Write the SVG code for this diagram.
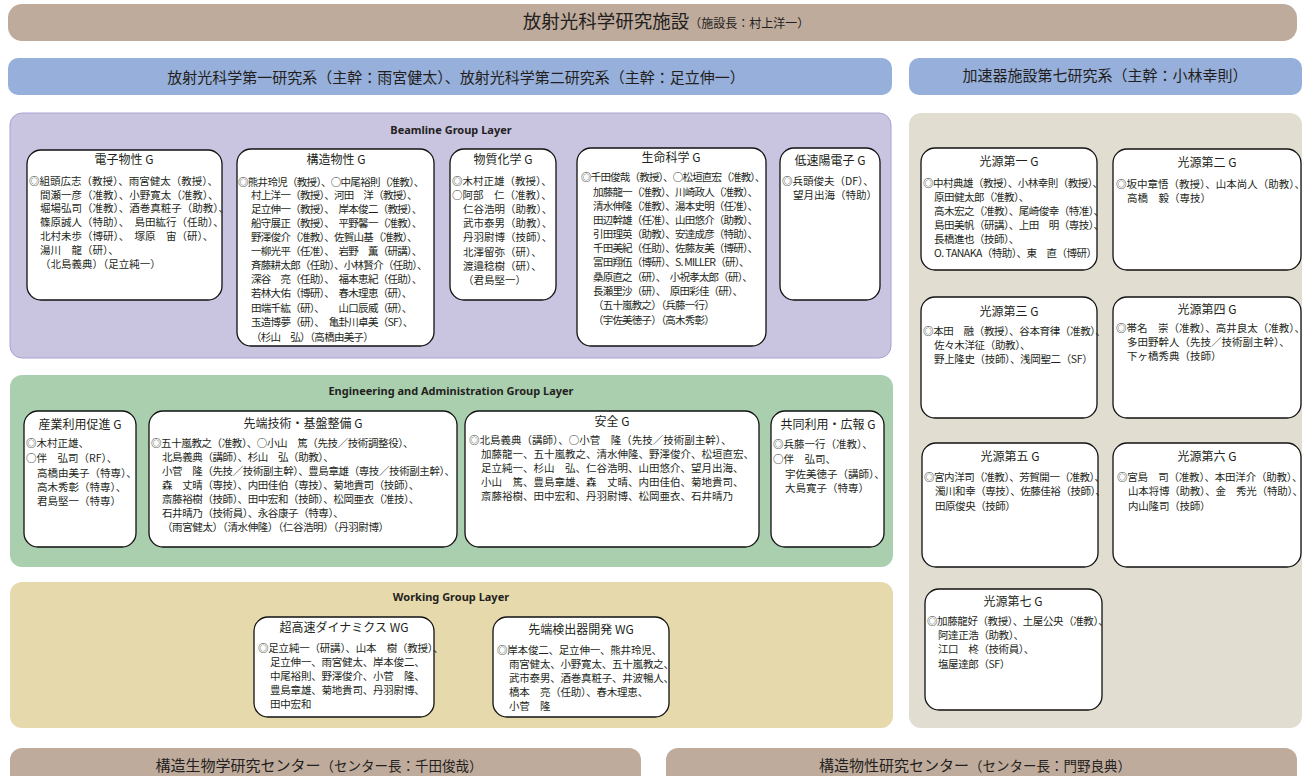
<svg xmlns="http://www.w3.org/2000/svg" width="1306" height="776" viewBox="0 0 1306 776">
<style>
text{font-family:"Noto Sans CJK JP","Noto Sans",sans-serif;fill:#231f20}
.m{font-size:10.5px}
.t{font-size:12px;text-anchor:middle}
.L{font-family:"Noto Sans","Noto Sans CJK JP",sans-serif;font-size:11px;font-weight:bold;text-anchor:middle}
.n{fill:#fff;stroke:#111;stroke-width:1.3}
.h{text-anchor:middle}
.s2{letter-spacing:-0.2px}.s35{letter-spacing:-0.35px}.s4{letter-spacing:-0.4px}.s45{letter-spacing:-0.45px}.s5{letter-spacing:-0.5px}.s7{letter-spacing:-0.7px}.s8{letter-spacing:-0.8px}
</style>
<rect width="1306" height="776" fill="#fff"/>
<g id="bars">
<rect x="8" y="4" width="1289" height="37" rx="14" fill="#bfab9c"/>
<text x="666" y="28" class="h"><tspan font-size="18.5px">放射光科学研究施設</tspan><tspan font-size="12px">（施設長：村上洋一）</tspan></text>
<rect x="8" y="58" width="884" height="37" rx="10" fill="#97afdb"/>
<text x="456" y="83" class="h" font-size="15px">放射光科学第一研究系（主幹：雨宮健太）、放射光科学第二研究系（主幹：足立伸一）</text>
<rect x="909" y="58" width="393" height="37" rx="10" fill="#97afdb"/>
<text x="1105" y="81" class="h" font-size="15px">加速器施設第七研究系（主幹：小林幸則）</text>
<rect x="10" y="748" width="631" height="40" rx="12" fill="#bfab9c"/>
<text x="319" y="771" class="h"><tspan font-size="15px">構造生物学研究センター</tspan><tspan font-size="13.5px">（センター長：千田俊哉）</tspan></text>
<rect x="666" y="748" width="631" height="40" rx="12" fill="#bfab9c"/>
<text x="975" y="771" class="h"><tspan font-size="15px">構造物性研究センター</tspan><tspan font-size="13.5px">（センター長：門野良典）</tspan></text>
</g>
<g id="layers">
<rect x="10" y="113" width="881" height="245" rx="12" fill="#c9c4e0" stroke="#aaa2d3" stroke-width="1"/>
<text x="451" y="134" class="L">Beamline Group Layer</text>
<rect x="909" y="113" width="393" height="615" rx="12" fill="#e1ddd0"/>
<rect x="10" y="375" width="883" height="192" rx="12" fill="#aacfaf"/>
<text x="451" y="395" class="L">Engineering and Administration Group Layer</text>
<rect x="10" y="582" width="883" height="146" rx="12" fill="#e6d9ac"/>
<text x="451" y="601" class="L">Working Group Layer</text>
</g>
<g id="connectors"></g>
<g id="denshi">
<rect class="n" x="27" y="150" width="195" height="150" rx="14"/>
<text x="124" y="164" class="t">電子物性 G</text>
<text class="m"><tspan x="29" y="185">◎組頭広志（教授）、雨宮健太（教授）、</tspan><tspan x="40" y="199">間瀬一彦（准教）、小野寛太（准教）、</tspan><tspan x="40" y="212">堀場弘司（准教）、酒巻真粧子（助教）、</tspan><tspan x="40" y="226">篠原誠人（特助）、　島田紘行（任助）、</tspan><tspan x="40" y="240">北村未歩（博研）、　塚原　宙（研）、</tspan><tspan x="40" y="254">湯川　龍（研）、</tspan><tspan x="40" y="268">（北島義典）（足立純一）</tspan></text>
</g>
<g id="kozo">
<rect class="n" x="237" y="149" width="197" height="197" rx="14"/>
<text x="336" y="164" class="t">構造物性 G</text>
<text class="m s7"><tspan x="238" y="186">◎熊井玲児（教授）、○中尾裕則（准教）、</tspan><tspan x="251" y="199">村上洋一（教授）、河田　洋（教授）、</tspan><tspan x="251" y="213">足立伸一（教授）、　岸本俊二（教授）、</tspan><tspan x="251" y="227">船守展正（教授）、　平野馨一（准教）、</tspan><tspan x="251" y="241">野澤俊介（准教）、佐賀山基（准教）、</tspan><tspan x="251" y="255">一柳光平（任准）、　岩野　薫（研講）、</tspan><tspan x="251" y="269">斉藤耕太郎（任助）、小林賢介（任助）、</tspan><tspan x="251" y="283">深谷　亮（任助）、　福本恵紀（任助）、</tspan><tspan x="251" y="297">若林大佑（博研）、　春木理恵（研）、</tspan><tspan x="251" y="312">田端千紘（研）、　　山口辰威（研）、</tspan><tspan x="251" y="326">玉造博夢（研）、　亀卦川卓美（SF）、</tspan><tspan x="251" y="341">（杉山　弘）（高橋由美子）</tspan></text>
</g>
<g id="busshitsu">
<rect class="n" x="450" y="149" width="106" height="151" rx="14"/>
<text x="503" y="164" class="t">物質化学 G</text>
<text class="m"><tspan x="452" y="185">◎木村正雄（教授）、</tspan><tspan x="452" y="199">○阿部　仁（准教）、</tspan><tspan x="463" y="213">仁谷浩明（助教）、</tspan><tspan x="463" y="227">武市泰男（助教）、</tspan><tspan x="463" y="241">丹羽尉博（技師）、</tspan><tspan x="463" y="256">北澤留弥（研）、</tspan><tspan x="463" y="270">渡邉稔樹（研）、</tspan><tspan x="463" y="284">（君島堅一）</tspan></text>
</g>
<g id="seimei">
<rect class="n" x="577" y="148" width="189" height="198" rx="14"/>
<text x="671" y="162" class="t">生命科学 G</text>
<text class="m s8"><tspan x="581" y="181">◎千田俊哉（教授）、○松垣直宏（准教）、</tspan><tspan x="593" y="196">加藤龍一（准教）、川崎政人（准教）、</tspan><tspan x="593" y="210">清水伸隆（准教）、湯本史明（任准）、</tspan><tspan x="593" y="224">田辺幹雄（任准）、山田悠介（助教）、</tspan><tspan x="593" y="238">引田理英（助教）、安達成彦（特助）、</tspan><tspan x="593" y="252">千田美紀（任助）、佐藤友美（博研）、</tspan><tspan x="593" y="266">富田翔伍（博研）、S. MILLER（研）、</tspan><tspan x="593" y="281">桑原直之（研）、　小祝孝太郎（研）、</tspan><tspan x="593" y="295">長瀬里沙（研）、　原田彩佳（研）、</tspan><tspan x="593" y="309">（五十嵐教之）（兵藤一行）</tspan><tspan x="593" y="324">（宇佐美徳子）（高木秀彰）</tspan></text>
</g>
<g id="teisoku">
<rect class="n" x="780" y="148" width="100" height="152" rx="14"/>
<text x="830" y="165" class="t">低速陽電子 G</text>
<text class="m"><tspan x="782" y="185">◎兵頭俊夫（DF）、</tspan><tspan x="793" y="199">望月出海（特助）</tspan></text>
</g>
<g id="kogen1">
<rect class="n" x="921" y="148" width="176" height="122" rx="14"/>
<text x="1009" y="166" class="t">光源第一 G</text>
<text class="m s5"><tspan x="923" y="187">◎中村典雄（教授）、小林幸則（教授）、</tspan><tspan x="934" y="201">原田健太郎（准教）、</tspan><tspan x="934" y="215">高木宏之（准教）、尾崎俊幸（特准）、</tspan><tspan x="934" y="229">島田美帆（研講）、上田　明（専技）、</tspan><tspan x="934" y="243">長橋進也（技師）、</tspan><tspan x="934" y="257">O. TANAKA（特助）、東　直（博研）</tspan></text>
</g>
<g id="kogen2">
<rect class="n" x="1113" y="149" width="188" height="121" rx="14"/>
<text x="1207" y="167" class="t">光源第二 G</text>
<text class="m"><tspan x="1116" y="188">◎坂中章悟（教授）、山本尚人（助教）、</tspan><tspan x="1127" y="202">高橋　毅（専技）</tspan></text>
</g>
<g id="kogen3">
<rect class="n" x="921" y="297" width="176" height="121" rx="14"/>
<text x="1009" y="316" class="t">光源第三 G</text>
<text class="m s35"><tspan x="923" y="335">◎本田　融（教授）、谷本育律（准教）、</tspan><tspan x="934" y="349">佐々木洋征（助教）、</tspan><tspan x="934" y="363">野上隆史（技師）、浅岡聖二（SF）</tspan></text>
</g>
<g id="kogen4">
<rect class="n" x="1113" y="297" width="188" height="121" rx="14"/>
<text x="1207" y="314" class="t">光源第四 G</text>
<text class="m"><tspan x="1116" y="332">◎帯名　崇（准教）、高井良太（准教）、</tspan><tspan x="1127" y="346">多田野幹人（先技／技術副主幹）、</tspan><tspan x="1127" y="360">下ヶ橋秀典（技師）</tspan></text>
</g>
<g id="kogen5">
<rect class="n" x="922" y="443" width="176" height="124" rx="14"/>
<text x="1010" y="461" class="t">光源第五 G</text>
<text class="m s45"><tspan x="924" y="481">◎宮内洋司（准教）、芳賀開一（准教）、</tspan><tspan x="935" y="495">濁川和幸（専技）、佐藤佳裕（技師）、</tspan><tspan x="935" y="510">田原俊央（技師）</tspan></text>
</g>
<g id="kogen6">
<rect class="n" x="1113" y="443" width="188" height="124" rx="14"/>
<text x="1207" y="461" class="t">光源第六 G</text>
<text class="m s2"><tspan x="1117" y="481">◎宮島　司（准教）、本田洋介（助教）、</tspan><tspan x="1128" y="495">山本将博（助教）、金　秀光（特助）、</tspan><tspan x="1128" y="510">内山隆司（技師）</tspan></text>
</g>
<g id="kogen7">
<rect class="n" x="925" y="589" width="177" height="121" rx="14"/>
<text x="1013" y="606" class="t">光源第七 G</text>
<text class="m s4"><tspan x="927" y="625">◎加藤龍好（教授）、土屋公央（准教）、</tspan><tspan x="938" y="639">阿達正浩（助教）、</tspan><tspan x="938" y="653">江口　柊（技術員）、</tspan><tspan x="938" y="668">塩屋達郎（SF）</tspan></text>
</g>
<g id="sangyo">
<rect class="n" x="24" y="411" width="112" height="136" rx="14"/>
<text x="80" y="429" class="t">産業利用促進 G</text>
<text class="m"><tspan x="26" y="447">◎木村正雄、</tspan><tspan x="26" y="462">○伴　弘司（RF）、</tspan><tspan x="37" y="477">高橋由美子（特専）、</tspan><tspan x="37" y="491">高木秀彰（特専）、</tspan><tspan x="37" y="505">君島堅一（特専）</tspan></text>
</g>
<g id="sentan">
<rect class="n" x="149" y="411" width="308" height="136" rx="14"/>
<text x="303" y="428" class="t">先端技術・基盤整備 G</text>
<text class="m s4"><tspan x="151" y="447">◎五十嵐教之（准教）、○小山　篤（先技／技術調整役）、</tspan><tspan x="162" y="461">北島義典（講師）、杉山　弘（助教）、</tspan><tspan x="162" y="475">小菅　隆（先技／技術副主幹）、豊島章雄（専技／技術副主幹）、</tspan><tspan x="162" y="489">森　丈晴（専技）、内田佳伯（専技）、菊地貴司（技師）、</tspan><tspan x="162" y="503">斎藤裕樹（技師）、田中宏和（技師）、松岡亜衣（准技）、</tspan><tspan x="162" y="517">石井晴乃（技術員）、永谷康子（特専）、</tspan><tspan x="162" y="531">（雨宮健太）（清水伸隆）（仁谷浩明）（丹羽尉博）</tspan></text>
</g>
<g id="anzen">
<rect class="n" x="465" y="411" width="294" height="136" rx="14"/>
<text x="612" y="426" class="t">安全 G</text>
<text class="m"><tspan x="469" y="444">◎北島義典（講師）、○小菅　隆（先技／技術副主幹）、</tspan><tspan x="481" y="458">加藤龍一、五十嵐教之、清水伸隆、野澤俊介、松垣直宏、</tspan><tspan x="481" y="472">足立純一、杉山　弘、仁谷浩明、山田悠介、望月出海、</tspan><tspan x="481" y="486">小山　篤、豊島章雄、森　丈晴、内田佳伯、菊地貴司、</tspan><tspan x="481" y="500">斎藤裕樹、田中宏和、丹羽尉博、松岡亜衣、石井晴乃</tspan></text>
</g>
<g id="kyodo">
<rect class="n" x="771" y="411" width="113" height="136" rx="14"/>
<text x="828" y="429" class="t">共同利用・広報 G</text>
<text class="m"><tspan x="773" y="448">◎兵藤一行（准教）、</tspan><tspan x="773" y="463">○伴　弘司、</tspan><tspan x="785" y="478">宇佐美徳子（講師）、</tspan><tspan x="785" y="492">大島寛子（特専）</tspan></text>
</g>
<g id="chokosoku">
<rect class="n" x="254" y="617" width="180" height="100" rx="14"/>
<text x="344" y="632" class="t">超高速ダイナミクス WG</text>
<text class="m s2"><tspan x="258" y="652">◎足立純一（研講）、山本　樹（教授）、</tspan><tspan x="270" y="666">足立伸一、雨宮健太、岸本俊二、</tspan><tspan x="270" y="680">中尾裕則、野澤俊介、小菅　隆、</tspan><tspan x="270" y="694">豊島章雄、菊地貴司、丹羽尉博、</tspan><tspan x="270" y="708">田中宏和</tspan></text>
</g>
<g id="kenshutsu">
<rect class="n" x="493" y="617" width="176" height="100" rx="14"/>
<text x="581" y="634" class="t">先端検出器開発 WG</text>
<text class="m s2"><tspan x="497" y="654">◎岸本俊二、足立伸一、熊井玲児、</tspan><tspan x="509" y="668">雨宮健太、小野寛太、五十嵐教之、</tspan><tspan x="509" y="682">武市泰男、酒巻真粧子、井波暢人、</tspan><tspan x="509" y="696">橋本　亮（任助）、春木理恵、</tspan><tspan x="509" y="710">小菅　隆</tspan></text>
</g>
</svg>
